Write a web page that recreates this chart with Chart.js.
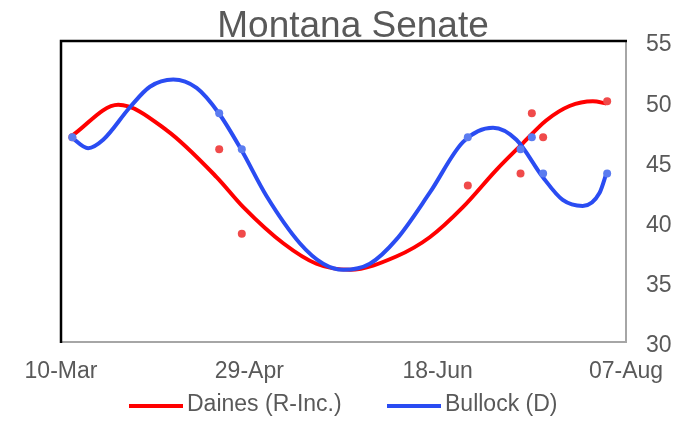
<!DOCTYPE html>
<html>
<head>
<meta charset="utf-8">
<script src="https://cdn.jsdelivr.net/npm/chart.js@4.4.0/dist/chart.umd.min.js"></script>
<style>
  body { margin: 0; background: #fff; }
  canvas { display: block; }
</style>
</head>
<body>
<canvas id="senate" width="674" height="422"></canvas>
<script>
// tick labels for the x axis (days since 10-Mar, every 50 days)
var tickLabels = ['10-Mar', '29-Apr', '18-Jun', '07-Aug'];
var yTicks = [30, 35, 40, 45, 50, 55];

// polls: day offset from 10-Mar
var pollDays = [3, 42, 48, 108, 122, 125, 128, 145];
var dainesPolls = [47, 46, 39, 43, 44, 49, 47, 50];
var bullockPolls = [47, 49, 46, 47, 46, 47, 44, 44];

// trend lines
var dainesTrendDays = [2.8, 15.2, 28, 41.3, 48.4, 59, 67.8, 76.7, 89, 97.9, 106.7, 115.6, 122.6, 128.8, 135, 141.2, 144.8];
var dainesTrend = [47.1, 49.7, 47.6, 43.7, 41.2, 38.2, 36.5, 36.0, 37.1, 38.7, 41.2, 44.3, 46.5, 48.4, 49.6, 50.0, 49.8];
var bullockTrendDays = [2.8, 7.2, 11.2, 18.3, 23.6, 29.8, 36, 41.9, 47.8, 54.6, 63.4, 69.6, 75, 82, 89, 97.9, 106.7, 114.7, 120.9, 127.9, 133.2, 138.5, 143, 144.8];
var bullockTrend = [47.0, 46.1, 46.8, 49.5, 51.2, 51.8, 51.1, 49.0, 46.0, 42.1, 38.2, 36.5, 36.0, 36.5, 38.5, 42.4, 46.6, 47.8, 46.8, 43.7, 41.8, 41.3, 42.4, 44.0];

var seriesNames = ['Daines (R-Inc.)', 'Bullock (D)'];
var lineColors = ['#ff0000', '#2a4cf2'];
var dotColors = ['#f04a4a', '#5b7cf0'];
var textColor = '#595959';
var fontFamily = '"Liberation Sans", Arial, sans-serif';

function toXY(xs, ys) {
    var out = [];
    for (var i = 0; i < xs.length; i++) out.push({x: xs[i], y: ys[i]});
    return out;
}

// title, legend and the black top/left frame
var decorations = {
    id: 'decorations',
    afterDraw: function (chart) {
        var ctx = chart.ctx;
        var a = chart.chartArea;
        ctx.save();
        ctx.strokeStyle = '#000';
        ctx.lineWidth = 2.5;
        ctx.beginPath();
        ctx.moveTo(a.left, a.bottom + 1);
        ctx.lineTo(a.left, a.top);
        ctx.lineTo(a.right + 1, a.top);
        ctx.stroke();

        ctx.fillStyle = textColor;
        ctx.font = '37px ' + fontFamily;
        ctx.textAlign = 'center';
        ctx.textBaseline = 'alphabetic';
        ctx.fillText('Montana Senate', 353, 37);

        ctx.font = '23px ' + fontFamily;
        ctx.textAlign = 'left';
        ctx.textBaseline = 'middle';
        var legendX = [129, 387];
        for (var i = 0; i < seriesNames.length; i++) {
            ctx.strokeStyle = lineColors[i];
            ctx.lineWidth = 4;
            ctx.beginPath();
            ctx.moveTo(legendX[i], 406);
            ctx.lineTo(legendX[i] + 54, 406);
            ctx.stroke();
            ctx.fillText(seriesNames[i], legendX[i] + 58, 405);
        }
        ctx.restore();
    }
};

var chart = new Chart(document.getElementById('senate').getContext('2d'), {
    type: 'scatter',
    data: {
        datasets: [
            {
                label: seriesNames[1] + ' polls',
                data: toXY(pollDays, bullockPolls),
                pointRadius: 4,
                pointBackgroundColor: dotColors[1],
                pointBorderWidth: 0,
                order: 1
            },
            {
                label: seriesNames[0] + ' polls',
                data: toXY(pollDays, dainesPolls),
                pointRadius: 4,
                pointBackgroundColor: dotColors[0],
                pointBorderWidth: 0,
                order: 2
            },
            {
                label: seriesNames[1],
                data: toXY(bullockTrendDays, bullockTrend),
                showLine: true,
                borderColor: lineColors[1],
                borderWidth: 4,
                pointRadius: 0,
                cubicInterpolationMode: 'monotone',
                order: 3
            },
            {
                label: seriesNames[0],
                data: toXY(dainesTrendDays, dainesTrend),
                showLine: true,
                borderColor: lineColors[0],
                borderWidth: 4,
                pointRadius: 0,
                cubicInterpolationMode: 'monotone',
                order: 4
            }
        ]
    },
    options: {
        responsive: false,
        animation: false,
        layout: { padding: { left: 61, top: 41, right: 0, bottom: 0 } },
        plugins: {
            legend: { display: false },
            title: { display: false },
            tooltip: { enabled: false }
        },
        scales: {
            x: {
                type: 'linear',
                min: 0,
                max: 150,
                grid: { display: false, drawTicks: false },
                border: { display: true, color: '#a6a6a6', width: 2 },
                afterFit: function (scale) {
                    scale.height = 80;
                    scale.paddingLeft = 0;
                    scale.paddingRight = 0;
                },
                ticks: {
                    stepSize: 50,
                    padding: 16,
                    color: textColor,
                    font: { family: fontFamily, size: 23 },
                    maxRotation: 0,
                    callback: function (value) { return tickLabels[value / 50]; }
                }
            },
            y: {
                position: 'right',
                min: yTicks[0],
                max: yTicks[yTicks.length - 1],
                grid: { display: false, drawTicks: false },
                border: { display: true, color: '#a6a6a6', width: 2 },
                afterFit: function (scale) {
                    scale.width = 48;
                    scale.paddingTop = 0;
                    scale.paddingBottom = 0;
                },
                ticks: {
                    stepSize: 5,
                    padding: 20,
                    labelOffset: 4,
                    color: textColor,
                    font: { family: fontFamily, size: 23 }
                }
            }
        }
    },
    plugins: [decorations]
});
</script>
</body>
</html>
